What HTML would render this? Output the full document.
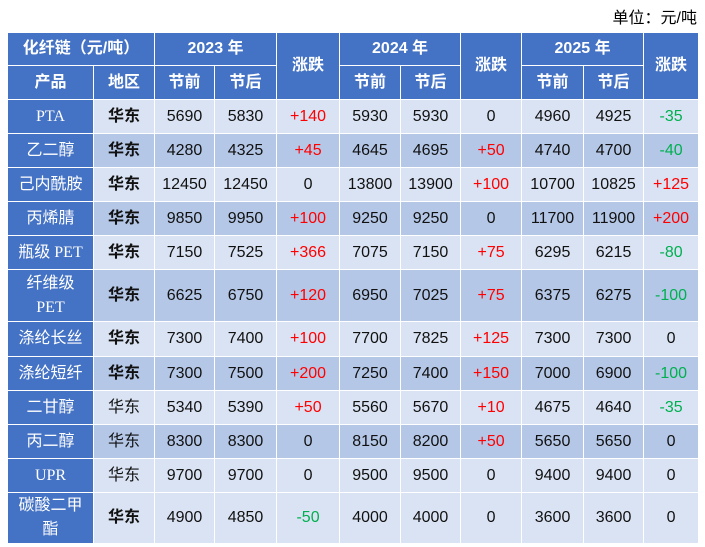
<!DOCTYPE html>
<html><head><meta charset="utf-8"><style>
body{margin:0;width:705px;height:547px;background:#fff;position:relative;font-family:"Liberation Sans","Noto Sans CJK SC",sans-serif;overflow:hidden}
.unit{position:absolute;right:8px;top:4px;font-size:16px;color:#000}
table{position:absolute;left:7px;top:32px;border-collapse:collapse;table-layout:fixed;width:691px}
td{border:1px solid #fff;text-align:center;padding:0;font-size:16px;color:#111;line-height:18px;overflow:hidden}
.h td{background:#4472C4;color:#fff;font-weight:bold;font-size:16px}
td.p{background:#4472C4;color:#fff;font-family:"Liberation Serif","Noto Sans CJK SC",serif;font-size:16px}
tr.l td:not(.p){background:#DAE3F3}
tr.d td:not(.p){background:#B4C7E7}
.b{font-weight:bold;font-size:16px}
.r{color:#f00}.g{color:#00B050}
</style></head><body>
<div class="unit">单位：元/吨</div>
<table>
<colgroup><col style="width:86px"><col style="width:61px"><col style="width:60px"><col style="width:62px"><col style="width:63px"><col style="width:61px"><col style="width:60px"><col style="width:61px"><col style="width:62px"><col style="width:60px"><col style="width:55px"></colgroup>
<tr class="h" style="height:33px"><td colspan="2">化纤链（元/吨）</td><td colspan="2">2023 年</td><td rowspan="2">涨跌</td><td colspan="2">2024 年</td><td rowspan="2">涨跌</td><td colspan="2">2025 年</td><td rowspan="2">涨跌</td></tr>
<tr class="h" style="height:34px"><td>产品</td><td>地区</td><td>节前</td><td>节后</td><td>节前</td><td>节后</td><td>节前</td><td>节后</td></tr>
<tr class="l" style="height:34px"><td class="p">PTA</td><td class="b">华东</td><td>5690</td><td>5830</td><td class="r">+140</td><td>5930</td><td>5930</td><td>0</td><td>4960</td><td>4925</td><td class="g">-35</td></tr>
<tr class="d" style="height:34px"><td class="p">乙二醇</td><td class="b">华东</td><td>4280</td><td>4325</td><td class="r">+45</td><td>4645</td><td>4695</td><td class="r">+50</td><td>4740</td><td>4700</td><td class="g">-40</td></tr>
<tr class="l" style="height:34px"><td class="p">己内酰胺</td><td class="b">华东</td><td>12450</td><td>12450</td><td>0</td><td>13800</td><td>13900</td><td class="r">+100</td><td>10700</td><td>10825</td><td class="r">+125</td></tr>
<tr class="d" style="height:34px"><td class="p">丙烯腈</td><td class="b">华东</td><td>9850</td><td>9950</td><td class="r">+100</td><td>9250</td><td>9250</td><td>0</td><td>11700</td><td>11900</td><td class="r">+200</td></tr>
<tr class="l" style="height:34px"><td class="p">瓶级 PET</td><td class="b">华东</td><td>7150</td><td>7525</td><td class="r">+366</td><td>7075</td><td>7150</td><td class="r">+75</td><td>6295</td><td>6215</td><td class="g">-80</td></tr>
<tr class="d" style="height:52px"><td class="p" style="line-height:24px">纤维级<br>PET</td><td class="b">华东</td><td>6625</td><td>6750</td><td class="r">+120</td><td>6950</td><td>7025</td><td class="r">+75</td><td>6375</td><td>6275</td><td class="g">-100</td></tr>
<tr class="l" style="height:35px"><td class="p">涤纶长丝</td><td class="b">华东</td><td>7300</td><td>7400</td><td class="r">+100</td><td>7700</td><td>7825</td><td class="r">+125</td><td>7300</td><td>7300</td><td>0</td></tr>
<tr class="d" style="height:34px"><td class="p">涤纶短纤</td><td class="b">华东</td><td>7300</td><td>7500</td><td class="r">+200</td><td>7250</td><td>7400</td><td class="r">+150</td><td>7000</td><td>6900</td><td class="g">-100</td></tr>
<tr class="l" style="height:34px"><td class="p">二甘醇</td><td>华东</td><td>5340</td><td>5390</td><td class="r">+50</td><td>5560</td><td>5670</td><td class="r">+10</td><td>4675</td><td>4640</td><td class="g">-35</td></tr>
<tr class="d" style="height:34px"><td class="p">丙二醇</td><td>华东</td><td>8300</td><td>8300</td><td>0</td><td>8150</td><td>8200</td><td class="r">+50</td><td>5650</td><td>5650</td><td>0</td></tr>
<tr class="l" style="height:34px"><td class="p">UPR</td><td>华东</td><td>9700</td><td>9700</td><td>0</td><td>9500</td><td>9500</td><td>0</td><td>9400</td><td>9400</td><td>0</td></tr>
<tr class="l" style="height:51px"><td class="p" style="line-height:24px">碳酸二甲<br>酯</td><td class="b">华东</td><td>4900</td><td>4850</td><td class="g">-50</td><td>4000</td><td>4000</td><td>0</td><td>3600</td><td>3600</td><td>0</td></tr>
</table>
</body></html>
